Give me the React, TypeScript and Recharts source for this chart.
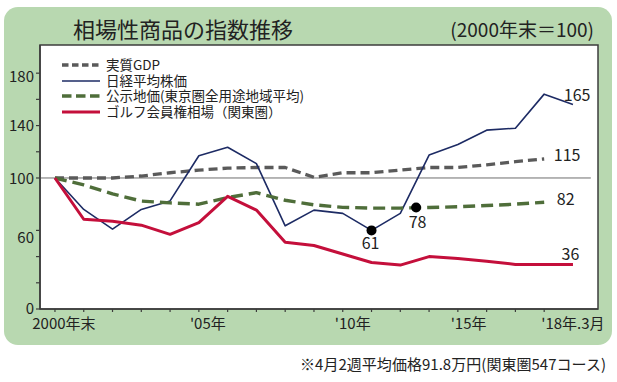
import React from 'react';
import { LineChart, Line, XAxis, YAxis, ReferenceLine, ReferenceDot, Legend } from 'recharts';

const FONT = "'Noto Sans CJK JP', 'Noto Sans', sans-serif";

// ---- data ----
const years = ['2000', '2001', '2002', '2003', '2004', '2005', '2006', '2007', '2008', '2009',
  '2010', '2011', '2012', '2013', '2014', '2015', '2016', '2017', '2018.3'];
const xTickLabelYears = ['2000', '2005', '2010', '2015', '2018.3'];
const xTickLabels = ['2000年末', "'05年", "'10年", "'15年", "'18年.3月"];
const yTicks = [0, 20, 40, 60, 100, 120, 140, 160, 180];
const yTickLabels = [0, 60, 100, 140, 180];
const seriesNames = ['実質GDP', '日経平均株価', '公示地価(東京圏全用途地域平均)', 'ゴルフ会員権相場（関東圏）'];

const gdp = [100, 100, 100, 101.5, 104, 106, 107.5, 108, 108, 100.5, 104, 104, 106, 108, 108, 110, 112.5, 114.5];
const nikkei = [100, 76, 61, 76, 82.5, 117, 123.5, 111, 63.5, 75.5, 73, 60, 73, 117.5, 125.5, 136.5, 138, 164, 156];
const landPrice = [100, 94.7, 87.8, 82.4, 81, 80, 85, 88.8, 83, 79.5, 77.6, 77, 77, 77.5, 78, 79, 80, 81.5];
const golf = [100, 68.5, 67, 64, 57, 66, 86, 75.5, 51, 48.5, 42, 35.5, 33.5, 40, 38.5, 36.5, 34, 34, 34];

const valueLabels = ['115', '165', '82', '36'];
const markerX = [11, 12.55];
const markerY = [60, 77.5];
const markerLabels = ['61', '78'];

const title = '相場性商品の指数推移';
const subtitle = '(2000年末＝100)';
const footnote = '※4月2週平均価格91.8万円(関東圏547コース)';

// ---- styles ----
const seriesStyle = [
  { key: 'gdp', color: '#5a5a5a', width: 3.3, dash: '9 5', legendDash: '6.5 3.5' },
  { key: 'nikkei', color: '#1d2b64', width: 1.6, dash: undefined, legendDash: undefined },
  { key: 'land', color: '#4f6e3a', width: 3.4, dash: '12 6', legendDash: '9.5 4.5' },
  { key: 'golf', color: '#c40f3b', width: 3, dash: undefined, legendDash: undefined },
];

const rows = years.map((yr, i) => ({
  x: i,
  year: yr,
  gdp: gdp[i],
  nikkei: nikkei[i],
  land: landPrice[i],
  golf: golf[i],
}));

const xLabelDx = [9, 9, 10, -18, 0];
const yLabelDy: Record<number, number> = { 0: -2, 60: 6, 100: 0, 140: -1, 180: 2 };

const XTick = (props: any) => {
  const { x, y, payload } = props;
  const idx = payload.value as number;
  const li = xTickLabelYears.indexOf(years[idx]);
  return (
    <g>
      {idx < years.length - 1 && (
        <line x1={x} x2={x} y1={y} y2={y + 3} stroke="#3c3c3c" strokeWidth={1.2} />
      )}
      {li >= 0 && (
        <text x={x + xLabelDx[li]} y={y + 13} textAnchor="middle" dominantBaseline="central"
          fontSize={15} fill="#222" fontFamily={FONT}>{xTickLabels[li]}</text>
      )}
    </g>
  );
};

const YTick = (props: any) => {
  const { x, y, payload } = props;
  const v = payload.value as number;
  if (!yTickLabels.includes(v)) return <g />;
  return (
    <text x={x} y={y + (yLabelDy[v] || 0)} textAnchor="end" dominantBaseline="central"
      fontSize={15} fill="#222" fontFamily={FONT}>{v}</text>
  );
};

const AnnText = (props: any) => {
  const { viewBox, text, dx, dy, size } = props;
  const cx = viewBox.x + (viewBox.width || 0) / 2;
  const cy = viewBox.y + (viewBox.height || 0) / 2;
  return (
    <text x={cx + dx} y={cy + dy} textAnchor="middle" dominantBaseline="central"
      fontSize={size || 16} fill="#222" fontFamily={FONT}>{text}</text>
  );
};

const LegendBox = () => (
  <div style={{ fontFamily: FONT, fontSize: 13.5, color: '#222' }}>
    {seriesNames.map((n, i) => {
      const s = seriesStyle[i];
      return (
        <div key={n} style={{ display: 'flex', alignItems: 'center', height: 15.7, overflow: 'visible' }}>
          <svg width={38} height={8} style={{ display: 'block', flex: 'none' }}>
            <line x1={0} x2={38} y1={4} y2={4} stroke={s.color}
              strokeWidth={s.width} strokeDasharray={s.legendDash} />
          </svg>
          <span style={{ display: 'block', marginLeft: 6, whiteSpace: 'nowrap', height: 15.7, lineHeight: '15.7px', overflow: 'visible' }}>{n}</span>
        </div>
      );
    })}
  </div>
);

// label placement for end values
const valueLabelPos = [
  { series: gdp, idx: 17, dx: 23, dy: -5 },
  { series: nikkei, idx: 17, dx: 33, dy: 0 },
  { series: landPrice, idx: 17, dx: 21.5, dy: -4 },
  { series: golf, idx: 18, dx: -2.5, dy: -11.5 },
];
const markerLabelPos = [
  { dx: -1, dy: 11.5 },
  { dx: 1.5, dy: 13.5 },
];

export default function App() {
  return (
    <div style={{ position: 'absolute', left: 0, top: 0, width: 617, height: 382, background: '#fff', overflow: 'hidden' }}>
      <svg width={617} height={382} style={{ position: 'absolute', left: 0, top: 0 }}>
        <rect x={4} y={7} width={608} height={338} rx={14} ry={14} fill="#b8d8b0" />
        <rect x={40} y={45} width={558} height={264} fill="#fff" stroke="#3c3c3c" strokeWidth={1.5} />
        <text x={73} y={28} dominantBaseline="central" fontSize={22} fill="#222" fontFamily={FONT}>{title}</text>
        <text x={594} y={28} textAnchor="end" dominantBaseline="central" fontSize={19} fill="#222" fontFamily={FONT}>{subtitle}</text>
        <text x={300} y={363} textAnchor="start" dominantBaseline="central" fontSize={15} fill="#222"
          fontFamily={FONT} textLength={306} lengthAdjust="spacing">{footnote}</text>
      </svg>
      <div style={{ position: 'absolute', left: 0, top: 0 }}>
        <LineChart width={617} height={382} data={rows}
          margin={{ top: 45, right: 19, bottom: 43, left: 0 }}>
          <XAxis type="number" dataKey="x" domain={[-0.52, 18.87]} ticks={years.map((_, i) => i)}
            interval={0} tickLine={false} tickSize={0} tickMargin={0} height={30}
            axisLine={{ stroke: '#3c3c3c', strokeWidth: 1.5 }} tick={<XTick />} allowDataOverflow />
          <YAxis type="number" domain={[0, 201.5]} ticks={yTicks} interval={0} width={40}
            tickSize={4} tickMargin={2} tickLine={{ stroke: '#3c3c3c', strokeWidth: 1.2 }}
            axisLine={{ stroke: '#3c3c3c', strokeWidth: 1.5 }} tick={<YTick />} allowDataOverflow />
          <ReferenceLine segment={[{ x: -0.52, y: 100 }, { x: 18.62, y: 100 }]} stroke="#6e6e6e" strokeWidth={1} />
          {seriesStyle.map((s) => (
            <Line key={s.key} type="linear" dataKey={s.key} stroke={s.color} strokeWidth={s.width}
              strokeDasharray={s.dash} dot={false} activeDot={false} isAnimationActive={false}
              strokeLinejoin="round" legendType="none" />
          ))}
          {valueLabels.map((t, i) => {
            const p = valueLabelPos[i];
            return (
              <ReferenceDot key={'v' + t} x={p.idx} y={p.series[p.idx]} r={0} fill="none" stroke="none"
                label={<AnnText text={t} dx={p.dx} dy={p.dy} size={16} />} />
            );
          })}
          {markerLabels.map((t, i) => (
            <ReferenceDot key={'m' + t} x={markerX[i]} y={markerY[i]} r={5} fill="#000" stroke="none"
              label={<AnnText text={t} dx={markerLabelPos[i].dx} dy={markerLabelPos[i].dy} size={16} />} />
          ))}
          <Legend layout="vertical" align="center" verticalAlign="middle" content={<LegendBox />}
            wrapperStyle={{ left: 62, top: 57, width: 270, height: 64 }} />
        </LineChart>
      </div>
    </div>
  );
}
